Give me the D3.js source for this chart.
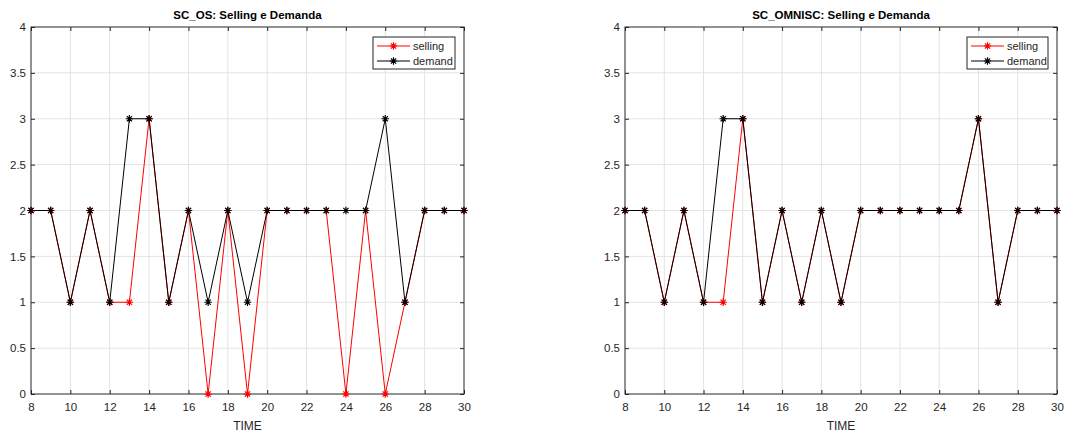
<!DOCTYPE html>
<html>
<head>
<meta charset="utf-8">
<script src="https://cdn.jsdelivr.net/npm/d3@7"></script>
<style>
  html, body { margin: 0; padding: 0; background: #fff; }
  svg { display: block; font-family: "Liberation Sans", Arial, Helvetica, sans-serif; }
</style>
</head>
<body>
<svg id="chart" width="1090" height="434"></svg>
<script>
// Time steps shown on the x axis
const time = [8, 9, 10, 11, 12, 13, 14, 15, 16, 17, 18, 19, 20, 21, 22, 23, 24, 25, 26, 27, 28, 29, 30];

// SC_OS run
const osDemand  = [2, 2, 1, 2, 1, 3, 3, 1, 2, 1, 2, 1, 2, 2, 2, 2, 2, 2, 3, 1, 2, 2, 2];
const osSelling = [2, 2, 1, 2, 1, 1, 3, 1, 2, 0, 2, 0, 2, 2, 2, 2, 0, 2, 0, 1, 2, 2, 2];

// SC_OMNISC run
const omDemand  = [2, 2, 1, 2, 1, 3, 3, 1, 2, 1, 2, 1, 2, 2, 2, 2, 2, 2, 3, 1, 2, 2, 2];
const omSelling = [2, 2, 1, 2, 1, 1, 3, 1, 2, 1, 2, 1, 2, 2, 2, 2, 2, 2, 3, 1, 2, 2, 2];

const xTicks = [8, 10, 12, 14, 16, 18, 20, 22, 24, 26, 28, 30];
const yTicks = [0, 0.5, 1, 1.5, 2, 2.5, 3, 3.5, 4];
const titles = ["SC_OS: Selling e Demanda", "SC_OMNISC: Selling e Demanda"];
const seriesNames = ["selling", "demand"];
const xLabel = "TIME";

const svg = d3.select("#chart");
const axisColor = "#262626";
const gridColor = "#e3e3e3";
const sellColor = "#ff0000";
const demColor = "#000000";

// asterisk marker: plus + cross
function asterisk(r) {
  const d = r * 0.7071;
  return `M${-r},0L${r},0M0,${-r}L0,${r}M${-d},${-d}L${d},${d}M${-d},${d}L${d},${-d}`;
}

function panel(left, right, title, selling, demand, legendX) {
  const top = 27, bottom = 394;
  const x = d3.scaleLinear().domain([8, 30]).range([left, right]);
  const y = d3.scaleLinear().domain([0, 4]).range([bottom, top]);
  const g = svg.append("g");

  // grid
  g.append("g").selectAll("line").data(xTicks.slice(1, -1)).join("line")
    .attr("x1", d => x(d)).attr("x2", d => x(d)).attr("y1", top).attr("y2", bottom)
    .attr("stroke", gridColor).attr("stroke-width", 1);
  g.append("g").selectAll("line").data(yTicks.slice(1, -1)).join("line")
    .attr("y1", d => y(d)).attr("y2", d => y(d)).attr("x1", left).attr("x2", right)
    .attr("stroke", gridColor).attr("stroke-width", 1);

  // axes (ticks pointing inward on all four sides)
  const styleAxis = sel => {
    sel.select(".domain").remove();
    sel.selectAll(".tick line").attr("stroke", axisColor);
    sel.selectAll(".tick text").attr("fill", axisColor).attr("font-size", 11.5)
      .attr("font-family", "'Liberation Sans', Arial, sans-serif");
  };
  g.append("g").attr("transform", `translate(0,${bottom})`)
    .call(d3.axisBottom(x).tickValues(xTicks).tickSizeInner(-4).tickSizeOuter(0).tickPadding(9).tickFormat(d3.format("d")))
    .call(styleAxis);
  g.append("g").attr("transform", `translate(0,${top})`)
    .call(d3.axisTop(x).tickValues(xTicks).tickSizeInner(-4).tickSizeOuter(0).tickFormat(""))
    .call(styleAxis);
  g.append("g").attr("transform", `translate(${left},0)`)
    .call(d3.axisLeft(y).tickValues(yTicks).tickSizeInner(-4).tickSizeOuter(0).tickPadding(5).tickFormat(d => d3.format("~g")(d)))
    .call(styleAxis);
  g.append("g").attr("transform", `translate(${right},0)`)
    .call(d3.axisRight(y).tickValues(yTicks).tickSizeInner(-4).tickSizeOuter(0).tickFormat(""))
    .call(styleAxis);

  g.append("rect").attr("x", left).attr("y", top).attr("width", right - left).attr("height", bottom - top)
    .attr("fill", "none").attr("stroke", axisColor).attr("stroke-width", 1);

  const line = d3.line().x((d, i) => x(time[i])).y(d => y(d));
  [[selling, sellColor], [demand, demColor]].forEach(([vals, col]) => {
    g.append("path").datum(vals).attr("d", line)
      .attr("fill", "none").attr("stroke", col).attr("stroke-width", 1);
    g.append("g").selectAll("path").data(vals).join("path")
      .attr("transform", (d, i) => `translate(${x(time[i])},${y(d)})`)
      .attr("d", asterisk(3.7)).attr("stroke", col).attr("stroke-width", 1.2).attr("fill", "none");
  });

  // title and x label
  g.append("text").attr("x", (left + right) / 2).attr("y", 19).attr("text-anchor", "middle")
    .attr("font-size", 11.5).attr("font-weight", "bold").attr("fill", "#000").text(title);
  g.append("text").attr("x", (left + right) / 2).attr("y", 430).attr("text-anchor", "middle")
    .attr("font-size", 12).attr("fill", axisColor).text(xLabel);

  // legend
  const lw = right === 464 ? 82 : 81;
  const lg = g.append("g").attr("transform", `translate(${legendX},37)`);
  lg.append("rect").attr("width", lw).attr("height", 32).attr("fill", "#fff")
    .attr("stroke", axisColor).attr("stroke-width", 1);
  [[sellColor, seriesNames[0]], [demColor, seriesNames[1]]].forEach(([col, name], k) => {
    const yy = 9 + k * 15;
    lg.append("line").attr("x1", 4).attr("x2", 37).attr("y1", yy).attr("y2", yy)
      .attr("stroke", col).attr("stroke-width", 1);
    lg.append("path").attr("transform", `translate(20.5,${yy})`).attr("d", asterisk(3.7))
      .attr("stroke", col).attr("stroke-width", 1.2).attr("fill", "none");
    lg.append("text").attr("x", 40).attr("y", yy + 4).attr("font-size", 11)
      .attr("fill", axisColor).text(name);
  });
}

panel(31, 464, titles[0], osSelling, osDemand, 373);
panel(625, 1057, titles[1], omSelling, omDemand, 967);
</script>
</body>
</html>
